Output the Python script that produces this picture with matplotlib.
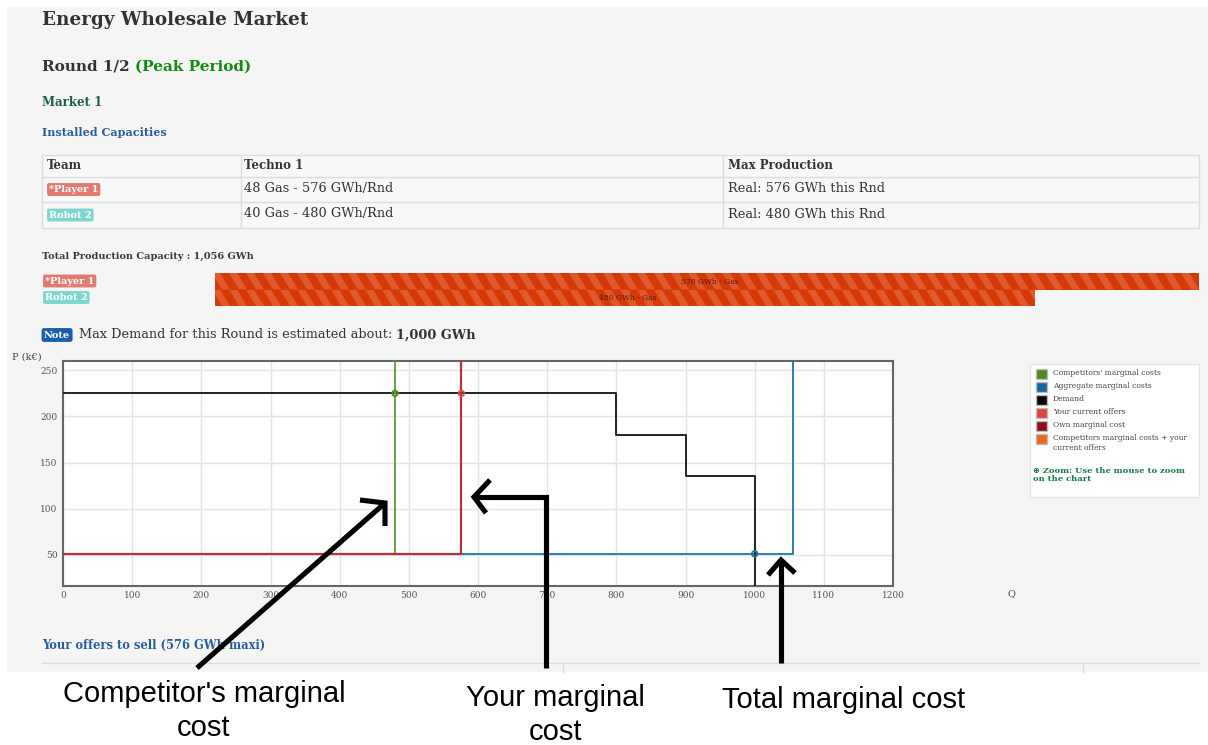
import numpy as np
import matplotlib
matplotlib.use('Agg')
import matplotlib.pyplot as plt
from matplotlib.patches import Rectangle, Polygon

# ---- data ----
teams = ['*Player 1', 'Robot 2']
team_colors = ['#df7b70', '#7fd6cf']
techno = ['48 Gas - 576 GWh/Rnd', '40 Gas - 480 GWh/Rnd']
max_prod = ['Real: 576 GWh this Rnd', 'Real: 480 GWh this Rnd']
capacity = [576, 480]  # GWh

# marginal cost curves (Q in GWh, P in k€)
mc_level = 51
comp_q = [0, 480, 480]
comp_p = [mc_level, mc_level, 270]
own_q = [0, 576, 576]
own_p = [mc_level, mc_level, 270]
agg_q = [0, 1056, 1056]
agg_p = [mc_level, mc_level, 270]
demand_q = [0, 800, 800, 900, 900, 1000, 1000]
demand_p = [225, 225, 180, 180, 135, 135, 0]
points_q = [480, 576, 1000]
points_p = [225, 225, mc_level]
points_c = ['#4f8a2b', '#d9534f', '#1f6fa0']

xticks = np.arange(0, 1201, 100)
yticks = [50, 100, 150, 200, 250]

legend_labels = ["Competitors' marginal costs", 'Aggregate marginal costs', 'Demand',
                 'Your current offers', 'Own marginal cost',
                 'Competitors marginal costs + your\ncurrent offers']
legend_colors = ['#4f8a1e', '#10699a', '#000000', '#e2433a', '#8e0c1e', '#f2661c']

W, H = 1208, 745
fig = plt.figure(figsize=(W / 100, H / 100), dpi=100)
fig.patch.set_facecolor('white')

serif = 'DejaVu Serif'

# background / page axes in pixel coords
bg = fig.add_axes([0, 0, 1, 1], zorder=0)
bg.set_xlim(0, W)
bg.set_ylim(H, 0)
bg.axis('off')
bg.add_patch(Rectangle((7, 7), W - 7, 665, color='#f5f5f5', lw=0))

bg.text(42, 20, 'Energy Wholesale Market', fontsize=13.2, fontweight='bold', family=serif,
        color='#333333', va='center')
t = bg.text(42, 67, 'Round 1/2 ', fontsize=11, fontweight='bold', family=serif,
            color='#333333', va='center')
bg.annotate('(Peak Period)', xycoords=t, xy=(1, 0), va='bottom', fontsize=11,
            fontweight='bold', family=serif, color='#138a13')
bg.text(42, 103, 'Market 1', fontsize=8.5, fontweight='bold', family=serif,
        color='#1e5e40', va='center')
bg.text(42, 133, 'Installed Capacities', fontsize=8, fontweight='bold', family=serif,
        color='#2a5d9c', va='center')

# table
tx0, tx1, tx2, tx3 = 42, 241, 723, 1199
ty = [155, 177, 202, 228]
bg.add_patch(Rectangle((tx0, ty[0]), tx3 - tx0, ty[-1] - ty[0], facecolor='#f8f8f8',
                       edgecolor='#dddddd', lw=1))
for y in ty[1:-1]:
    bg.plot([tx0, tx3], [y, y], color='#dddddd', lw=1)
for x in [tx1, tx2]:
    bg.plot([x, x], [ty[0], ty[-1]], color='#dddddd', lw=1)
for x, s in zip([47, 244, 728], ['Team', 'Techno 1', 'Max Production']):
    bg.text(x, 165.5, s, fontsize=8.5, fontweight='bold', family=serif, color='#333333', va='center')
for i in range(len(teams)):
    yc = (ty[i + 1] + ty[i + 2]) / 2 - 1
    bg.text(49, yc + 1, teams[i], fontsize=7, fontweight='bold', family=serif, color='white',
            va='center', bbox=dict(boxstyle='round,pad=0.2', fc=team_colors[i], ec='none'))
    bg.text(244, yc, techno[i], fontsize=9.3, family=serif, color='#333333', va='center')
    bg.text(728, yc, max_prod[i], fontsize=9.3, family=serif, color='#333333', va='center')

bg.text(42, 256, 'Total Production Capacity : 1,056 GWh', fontsize=7, fontweight='bold',
        family=serif, color='#2f3f2f', va='center')

# capacity bars with diagonal stripes
bar_x0, bar_full = 215, 1199 - 215
bar_h = 16.5
max_cap = max(capacity)
for i, cap in enumerate(capacity):
    y0 = 273 + i * bar_h
    w = bar_full * cap / max_cap
    rect = Rectangle((bar_x0, y0), w, bar_h, facecolor='#d53906', lw=0)
    bg.add_patch(rect)
    for sx in np.arange(bar_x0 - 20, bar_x0 + w + 20, 17):
        stripe = Polygon([(sx, y0), (sx + 8, y0), (sx + 18, y0 + bar_h), (sx + 10, y0 + bar_h)],
                         closed=True, facecolor='#e0582c', lw=0)
        bg.add_patch(stripe)
        stripe.set_clip_path(rect)
    bg.text(bar_x0 + w / 2 + 3, y0 + 8.5, f'{cap} GWh - Gas', fontsize=5.5, family=serif,
            color='#4a2214', ha='center', va='center')
    bg.text(45, y0 + 8, teams[i], fontsize=7, fontweight='bold', family=serif, color='white',
            va='center', bbox=dict(boxstyle='round,pad=0.2', fc=team_colors[i], ec='none'))

# note line
bg.text(44, 335, 'Note', fontsize=7, fontweight='bold', family=serif, color='white',
        va='center', bbox=dict(boxstyle='round,pad=0.25', fc='#1a5fa8', ec='none'))
nt = bg.text(79, 335, 'Max Demand for this Round is estimated about: ', fontsize=9.3,
             family=serif, color='#333333', va='center')
bg.annotate('1,000 GWh', xycoords=nt, xy=(1, 0), va='bottom', fontsize=9.3,
            fontweight='bold', family=serif, color='#333333')

# axis labels outside chart
bg.text(12, 357, 'P (k€)', fontsize=7, family=serif, color='#444444', va='center')
bg.text(1008, 594, 'Q', fontsize=7, family=serif, color='#444444', va='center')

# legend box
bg.add_patch(Rectangle((1030, 364), 169, 133, facecolor='white', edgecolor='#e6e6e6', lw=1))
ly = 374
for lab, col in zip(legend_labels, legend_colors):
    bg.add_patch(Rectangle((1036, ly - 5), 11, 10, facecolor=col, edgecolor='#bbbbbb', lw=1))
    bg.text(1053, ly - 5, lab, fontsize=5.5, family=serif, color='#444444', va='top',
            linespacing=1.3)
    ly += 13
bg.text(1033, 467, '⊕ Zoom: Use the mouse to zoom\non the chart', fontsize=6, fontweight='bold',
        family=serif, color='#1e7a4a', va='top', linespacing=1.0)

# offers section
bg.text(42, 645, 'Your offers to sell (576 GWh maxi)', fontsize=8.3, fontweight='bold',
        family=serif, color='#2a5d9c', va='center')
bg.plot([42, 1199], [663, 663], color='#dddddd', lw=1)
for x in [563, 1083]:
    bg.plot([x, x], [663, 672], color='#dddddd', lw=1)
bg.add_patch(Rectangle((0, 672), W, H - 672, color='white', lw=0))

# ---- chart ----
ax = fig.add_axes([63 / W, (H - 585.7) / H, 830 / W, 225 / H], zorder=1)
ax.set_facecolor('white')
ax.plot(agg_q, agg_p, color='#2b7fb0', lw=1.4, zorder=2)
ax.plot(demand_q, demand_p, color='#222222', lw=1.4, zorder=3)
ax.plot(comp_q, comp_p, color='#6aa33f', lw=1.4, zorder=4)
ax.plot(own_q, own_p, color='#b8323c', lw=1.6, zorder=5)
ax.scatter(points_q, points_p, s=16, facecolors='none', edgecolors=points_c, lw=1.3, zorder=6)
ax.set_xlim(0, 1200)
ax.set_ylim(16.4, 260.4)
ax.set_xticks(xticks)
ax.set_yticks(yticks)
ax.grid(color='#e4e4e4', lw=1)
ax.set_axisbelow(True)
ax.tick_params(length=0, labelsize=6.5, labelcolor='#555555', pad=4)
for lab in ax.get_xticklabels() + ax.get_yticklabels():
    lab.set_family(serif)
for sp in ax.spines.values():
    sp.set_color('#666666')
    sp.set_linewidth(1.5)

# ---- hand drawn annotations ----
fg = fig.add_axes([0, 0, 1, 1], zorder=2)
fg.set_xlim(0, W)
fg.set_ylim(H, 0)
fg.axis('off')
arr = dict(color='black', lw=3.7, solid_capstyle='butt', solid_joinstyle='miter')
fg.plot([197, 385], [668, 503], **arr)
fg.plot([360, 385, 385], [500, 503, 526], **arr)
fg.plot([546, 546, 474], [668, 497, 497], **arr)
fg.plot([490, 474, 486], [480, 497, 513], **arr)
fg.plot([781, 781], [663, 560], **arr)
fg.plot([768, 781, 795], [575, 560, 573], **arr)

sans = 'Liberation Sans'
fg.text(204, 694, "Competitor's marginal", fontsize=21, family=sans, ha='center', va='center')
fg.text(204, 728, 'cost', fontsize=21, family=sans, ha='center', va='center')
fg.text(555, 698, 'Your marginal', fontsize=21, family=sans, ha='center', va='center')
fg.text(555, 732, 'cost', fontsize=21, family=sans, ha='center', va='center')
fg.text(844, 700, 'Total marginal cost', fontsize=21, family=sans, ha='center', va='center')

fig.savefig('out.png', dpi=100)
